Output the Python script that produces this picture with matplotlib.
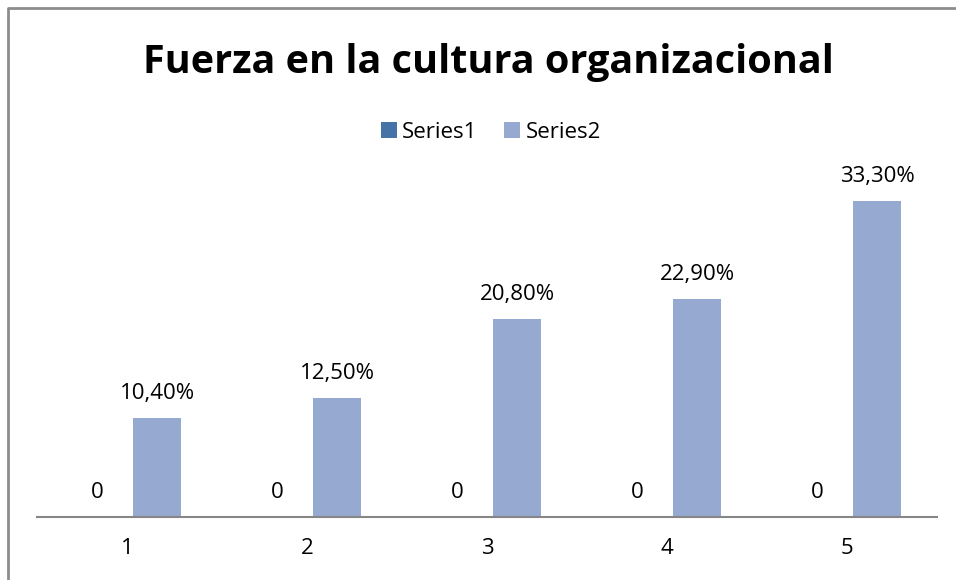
import matplotlib.pyplot as plt
from matplotlib.lines import Line2D
import numpy as np

plt.rcParams['font.family'] = ['Open Sans', 'DejaVu Sans']

categories = ['1', '2', '3', '4', '5']
series1 = [0, 0, 0, 0, 0]
series2 = [10.4, 12.5, 20.8, 22.9, 33.3]
series2_labels = ['10,40%', '12,50%', '20,80%', '22,90%', '33,30%']

c1 = '#4572A7'
c2 = '#95A9D1'

W, H = 956, 580
fig = plt.figure(figsize=(W / 100, H / 100), dpi=100)

# chart border, only left and top edges show in the reference
fig.add_artist(Line2D([7.5 / W, 7.5 / W, 1.0], [0.0, 1 - 8 / H, 1 - 8 / H],
                      transform=fig.transFigure, color='#8c8c8c', linewidth=2))

ax = fig.add_axes([37 / W, 1 - 517 / H, 900 / W, 380 / H])
x = np.arange(len(categories))
w = 0.265
b1 = ax.bar(x - 0.167, series1, w, color=c1, label='Series1')
b2 = ax.bar(x + 0.167, series2, w, color=c2, label='Series2')

ax.set_xlim(-0.5, 4.5)
ax.set_ylim(0, 40)
ax.set_xticks(x)
ax.set_xticklabels(categories, fontsize=16)
ax.tick_params(axis='x', length=0, pad=15)
ax.set_yticks([])
for s in ['left', 'right', 'top']:
    ax.spines[s].set_visible(False)
ax.spines['bottom'].set_color('#868686')
ax.spines['bottom'].set_linewidth(1.5)

for xi, v in zip(x, series1):
    ax.annotate(str(v), (xi - 0.167, v), xytext=(0, 13.7), textcoords='offset points',
                ha='center', va='baseline', fontsize=16)
for xi, v, lab in zip(x, series2, series2_labels):
    ax.annotate(lab, (xi + 0.167, v), xytext=(0, 13.7), textcoords='offset points',
                ha='center', va='baseline', fontsize=16)

fig.text(488 / W, 1 - 73 / H, 'Fuerza en la cultura organizacional',
         ha='center', va='baseline', fontsize=28.5, fontweight='bold')

fig.legend(handles=[b1, b2], loc='center', bbox_to_anchor=(491 / W, 1 - 132 / H),
           ncol=2, frameon=False, fontsize=16, handlelength=0.7, handleheight=0.7,
           handletextpad=0.25, columnspacing=1.2)

fig.savefig('out.png', dpi=100)
